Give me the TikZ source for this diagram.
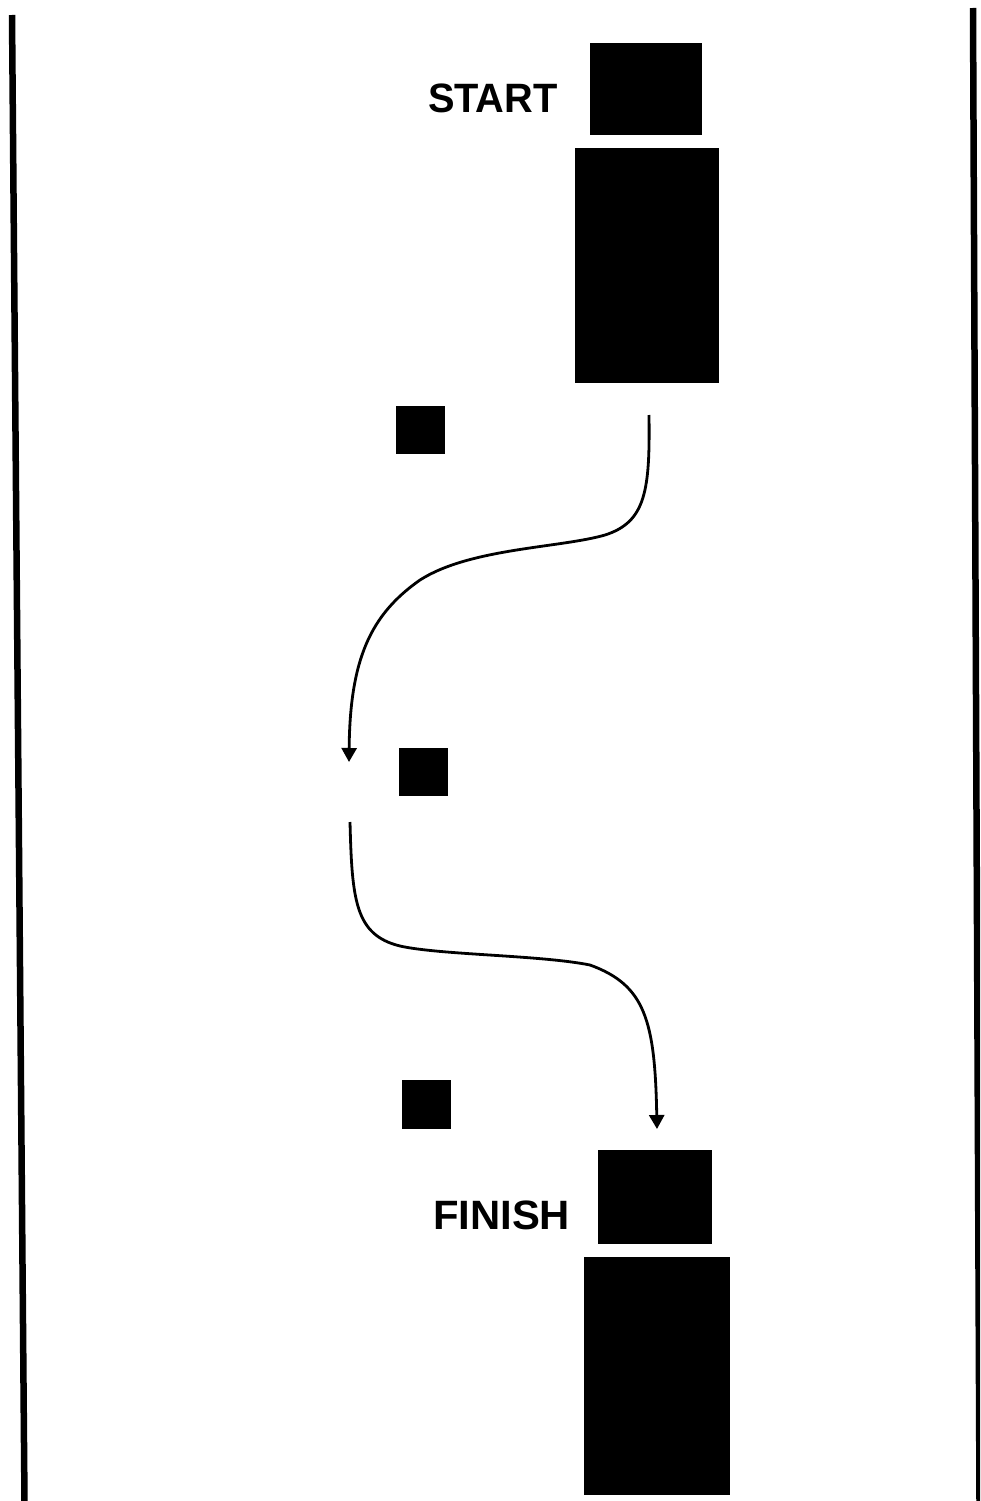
\documentclass[tikz,border=0pt]{standalone}
\usepackage{fontspec}
\setmainfont{Liberation Sans}
\usetikzlibrary{arrows.meta}
\begin{document}
\begin{tikzpicture}[x=1pt,y=-1pt,
  blk/.style={draw=none,fill=black,inner sep=0pt,outer sep=0pt},
  lbl/.style={inner sep=0pt,outer sep=0pt,font=\bfseries\fontsize{41}{41}\selectfont},
  rail/.style={line width=6.5pt,black},
  route/.style={line width=2.8pt,black,-{Triangle[width=15pt,length=14pt]}}]
\useasboundingbox (0,0) rectangle (980,1501);
\fill[white] (0,0) rectangle (980,1501);
% side rails
\coordinate (ltop) at (12,15);
\coordinate (lbot) at (24.5,1502);
\coordinate (rtop) at (973,8);
\coordinate (rbot) at (979.5,1502);
\draw[rail] (ltop) -- (lbot);
\begin{scope}
\clip (0,0) rectangle (980,1501);
\draw[rail] (rtop) -- (rbot);
\end{scope}
% start blocks
\node[blk,minimum width=112pt,minimum height=92pt] (sq1) at (645.5,89.5) {};
\node[blk,minimum width=144pt,minimum height=235pt] (big1) at (647,265.5) {};
\node[lbl,anchor=base west,xscale=0.97] (start) at (428,113) {START};
% small squares
\node[blk,minimum width=49pt,minimum height=48pt] (m1) at (420.5,430) {};
\node[blk,minimum width=49pt,minimum height=48pt] (m2) at (423.5,772) {};
\node[blk,minimum width=49pt,minimum height=49pt] (m3) at (426.5,1104.5) {};
% finish blocks
\node[blk,minimum width=114pt,minimum height=94pt] (sq2) at (655,1197) {};
\node[blk,minimum width=146pt,minimum height=238pt] (big2) at (657,1376) {};
\node[lbl,anchor=base west,xscale=1.02] (finish) at (433,1229) {FINISH};
% routes
\coordinate (a0) at (649,415);
\coordinate (a1) at (605,535);
\coordinate (a2) at (420,580);
\coordinate (a3) at (349,762);
\draw[route] (a0) .. controls (650,490) and (646,522) .. (a1)
  .. controls (560,548) and (470,548) .. (a2)
  .. controls (370,615) and (350,660) .. (a3);
\coordinate (b0) at (350,822);
\coordinate (b1) at (400,946);
\coordinate (b2) at (590,965);
\coordinate (b4) at (657,1129);
\draw[route] (b0) .. controls (352,900) and (355,935) .. (b1)
  .. controls (440,955) and (540,955) .. (b2)
  .. controls (645,985) and (655,1020) .. (b4);
\end{tikzpicture}
\end{document}
